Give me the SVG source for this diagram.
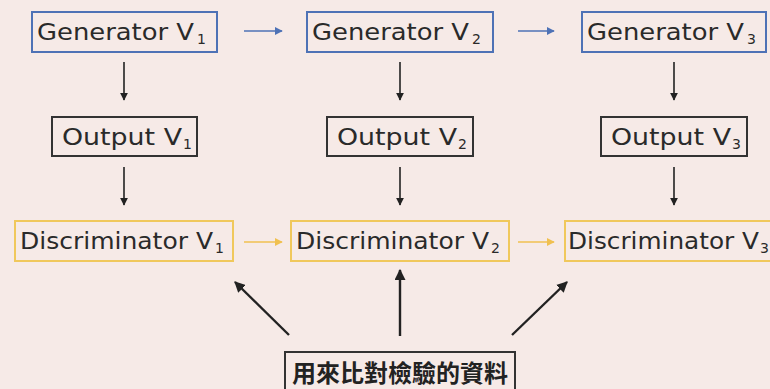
<svg xmlns="http://www.w3.org/2000/svg" width="770" height="389" viewBox="0 0 770 389">
<style>
.bg{fill:#F6EAE7}
.gen{fill:#F6EAE7;stroke:#4E72B6;stroke-width:2}
.out{fill:#F6EAE7;stroke:#333;stroke-width:2}
.dis{fill:#F6EAE7;stroke:#F0C85C;stroke-width:2}
.t{font-family:"DejaVu Sans","Liberation Sans",sans-serif;font-size:23px;fill:#2a2a2a}
.s{font-family:"DejaVu Sans","Liberation Sans",sans-serif;font-size:14px;fill:#2a2a2a}
.cjk{font-family:"Noto Sans CJK TC","Noto Sans CJK SC",sans-serif;font-size:24px;font-weight:bold;fill:#222}
.ak{stroke:#222;stroke-width:1.6;fill:none}
.ab{stroke:#4E72B6;stroke-width:1.6;fill:none}
.ay{stroke:#F0C050;stroke-width:1.6;fill:none}
.ad{stroke:#222;stroke-width:2.4;fill:none}
</style>
<defs>
<marker id="mk" viewBox="0 0 10 10" refX="9" refY="5" markerWidth="8" markerHeight="8" markerUnits="userSpaceOnUse" orient="auto"><path d="M0,0 L10,5 L0,10 Z" fill="#222"/></marker>
<marker id="mb" viewBox="0 0 10 10" refX="9" refY="5" markerWidth="8" markerHeight="8" markerUnits="userSpaceOnUse" orient="auto"><path d="M0,0 L10,5 L0,10 Z" fill="#4E72B6"/></marker>
<marker id="my" viewBox="0 0 10 10" refX="9" refY="5" markerWidth="8" markerHeight="8" markerUnits="userSpaceOnUse" orient="auto"><path d="M0,0 L10,5 L0,10 Z" fill="#F0C050"/></marker>
<marker id="md" viewBox="0 0 10 10" refX="9" refY="5" markerWidth="11" markerHeight="11" markerUnits="userSpaceOnUse" orient="auto"><path d="M0,0 L10,5 L0,10 Z" fill="#222"/></marker>
</defs>
<rect class="bg" x="0" y="0" width="770" height="389"/>
<g id="connectors">
<line class="ab" x1="244" y1="31" x2="282" y2="31" marker-end="url(#mb)"/>
<line class="ab" x1="518" y1="31" x2="554" y2="31" marker-end="url(#mb)"/>
<line class="ak" x1="124" y1="62" x2="124" y2="100" marker-end="url(#mk)"/>
<line class="ak" x1="400" y1="62" x2="400" y2="100" marker-end="url(#mk)"/>
<line class="ak" x1="674" y1="62" x2="674" y2="100" marker-end="url(#mk)"/>
<line class="ak" x1="124" y1="167" x2="124" y2="205" marker-end="url(#mk)"/>
<line class="ak" x1="400" y1="167" x2="400" y2="205" marker-end="url(#mk)"/>
<line class="ak" x1="674" y1="167" x2="674" y2="205" marker-end="url(#mk)"/>
<line class="ay" x1="244" y1="242" x2="282" y2="242" marker-end="url(#my)"/>
<line class="ay" x1="518" y1="242" x2="554" y2="242" marker-end="url(#my)"/>
<line class="ad" x1="289" y1="335" x2="235" y2="282" marker-end="url(#md)"/>
<line class="ad" x1="400" y1="336" x2="400" y2="270" marker-end="url(#md)"/>
<line class="ad" x1="512" y1="335" x2="567" y2="282" marker-end="url(#md)"/>
</g>
<g id="gen1"><rect class="gen" x="32" y="12" width="185" height="40"/><text class="t" x="37" y="40" textLength="157" lengthAdjust="spacingAndGlyphs">Generator V</text><text class="s" x="197" y="44">1</text></g>
<g id="gen2"><rect class="gen" x="307" y="12" width="186" height="40"/><text class="t" x="312" y="40" textLength="157" lengthAdjust="spacingAndGlyphs">Generator V</text><text class="s" x="472" y="44">2</text></g>
<g id="gen3"><rect class="gen" x="582" y="12" width="184" height="40"/><text class="t" x="587" y="40" textLength="157" lengthAdjust="spacingAndGlyphs">Generator V</text><text class="s" x="747" y="44">3</text></g>
<g id="out1"><rect class="out" x="52" y="117" width="145" height="39"/><text class="t" x="62" y="145" textLength="120" lengthAdjust="spacingAndGlyphs">Output V</text><text class="s" x="183" y="149">1</text></g>
<g id="out2"><rect class="out" x="327" y="117" width="146" height="39"/><text class="t" x="337" y="145" textLength="120" lengthAdjust="spacingAndGlyphs">Output V</text><text class="s" x="458" y="149">2</text></g>
<g id="out3"><rect class="out" x="601" y="117" width="146" height="39"/><text class="t" x="611" y="145" textLength="120" lengthAdjust="spacingAndGlyphs">Output V</text><text class="s" x="732" y="149">3</text></g>
<g id="dis1"><rect class="dis" x="15" y="221" width="218" height="40"/><text class="t" x="20" y="249" textLength="193" lengthAdjust="spacingAndGlyphs">Discriminator V</text><text class="s" x="215" y="253">1</text></g>
<g id="dis2"><rect class="dis" x="291" y="221" width="218" height="40"/><text class="t" x="296" y="249" textLength="193" lengthAdjust="spacingAndGlyphs">Discriminator V</text><text class="s" x="491" y="253">2</text></g>
<g id="dis3"><rect class="dis" x="565" y="221" width="218" height="40"/><text class="t" x="568" y="249" textLength="191" lengthAdjust="spacingAndGlyphs">Discriminator V</text><text class="s" x="760" y="253">3</text></g>
<g id="data"><rect class="out" x="285" y="352" width="230" height="42"/><text class="cjk" x="400" y="382" text-anchor="middle">用來比對檢驗的資料</text></g>
</svg>
